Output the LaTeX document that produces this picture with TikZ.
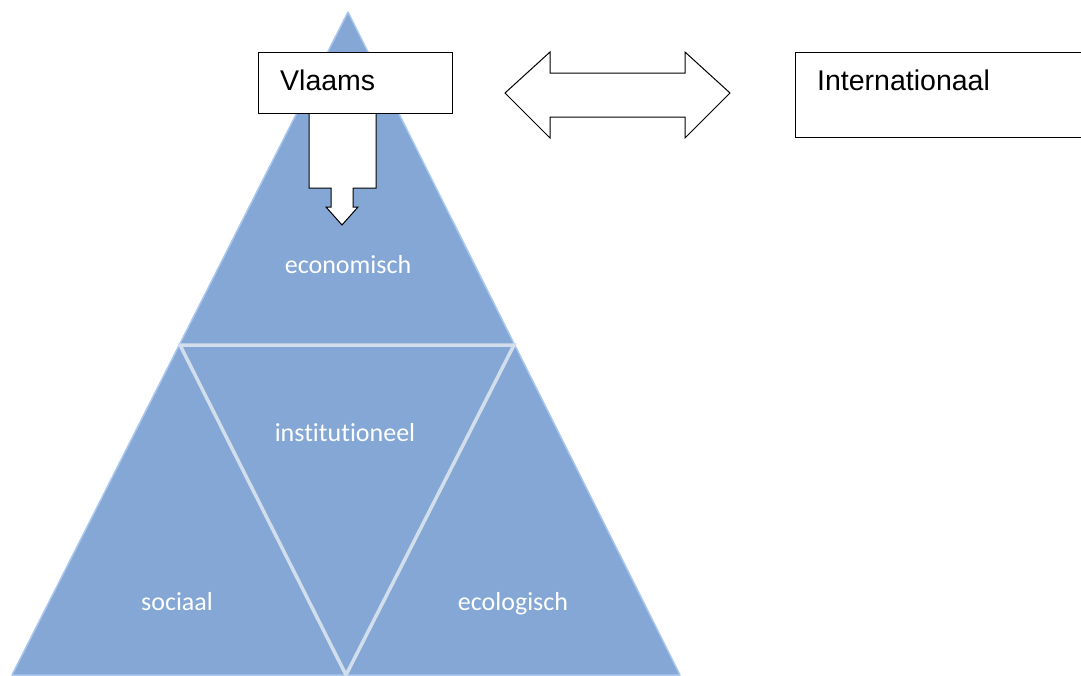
\documentclass[tikz,border=0pt]{standalone}
\usepackage{fontspec}
\newfontfamily\calibri[Ligatures=NoCommon]{Carlito}
\newfontfamily\arial{Liberation Sans}
\usetikzlibrary{positioning}
\definecolor{pyr}{HTML}{84A7D6}
\definecolor{pyredge}{HTML}{A9C6EE}
\definecolor{seam}{HTML}{D2DEEC}

\tikzset{
  seamline/.style={draw=seam,line width=3.5pt,line cap=round},
  lbl/.style={text=white,anchor=base,font=\calibri\fontsize{26}{30}\selectfont},
  boxtxt/.style={font=\arial\fontsize{28.5}{33}\selectfont,inner sep=0pt},
  box/.style={draw,line width=1pt,fill=white,inner sep=0pt},
  blockarrow/.style={draw,line width=1pt,fill=white,line join=miter}
}

\begin{document}
\begin{tikzpicture}[x=1pt,y=-1pt]
    \useasboundingbox (0,0) rectangle (1081,675);

    % pyramid
    \coordinate (top) at (348,12);
    \coordinate (bl) at (12,675);
    \coordinate (br) at (680,675);
    \coordinate (ml) at (180,345);
    \coordinate (mr) at (514,345);
    \coordinate (mb) at (346,675);

    \fill[pyr] (top) -- (bl) -- (br) -- cycle;
    \draw[pyredge,line width=1.5pt,line join=round] (top) -- (bl) -- (br) -- cycle;
    \draw[seamline] (ml) -- (mr) -- (mb) -- cycle;

    \node[lbl] (econ) at (348,273.5) {economisch};
    \node[lbl] (inst) at (345,441.5) {institutioneel};
    \node[lbl] (soc) at (177,610) {sociaal};
    \node[lbl] (eco) at (513,610) {ecologisch};

    % arrows
    \draw[blockarrow] (309,113) -- (309,188) -- (331,188) -- (331,207)
      -- (326,207) -- (342,225) -- (358,207) -- (353,207) -- (353,188)
      -- (376,188) -- (376,113) -- cycle;
    \draw[blockarrow] (505,93) -- (550,52) -- (550,73) -- (685,73)
      -- (685,52) -- (730,93) -- (685,138) -- (685,117) -- (550,117)
      -- (550,138) -- cycle;

    % boxes
    \node[box,minimum width=194,minimum height=61,anchor=north west] (vlaams) at (258,52) {};
    \node[boxtxt,anchor=base west] (vlaamstxt) at (280,90) {Vlaams};
    \node[box,minimum width=300,minimum height=85,anchor=north west] (intl) at (795,52) {};
    \node[boxtxt,anchor=base west] (intltxt) at (817,90) {Internationaal};
\end{tikzpicture}
\end{document}
